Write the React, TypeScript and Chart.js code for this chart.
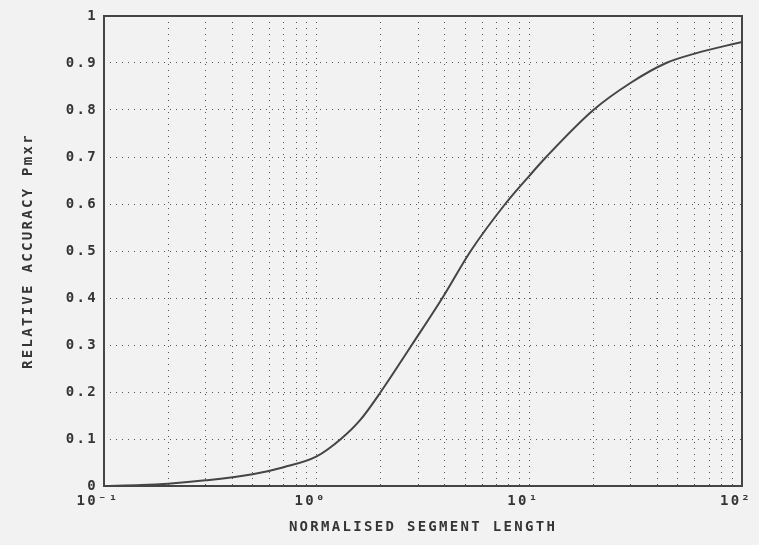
import React, { useEffect, useRef } from "react";
import { Chart, registerables } from "chart.js";

Chart.register(...registerables);

// Normalised segment length (log axis) and the relative accuracy it gives
const segmentLength = [0.1, 0.15, 0.2, 0.3, 0.5, 0.7, 1.0, 1.3, 1.6, 2.0, 2.8, 3.9, 5.3, 7.7, 10, 12, 20, 30, 44, 60, 100];
const relativeAccuracy = [0, 0.002, 0.005, 0.012, 0.025, 0.04, 0.063, 0.1, 0.14, 0.2, 0.3, 0.4, 0.5, 0.6, 0.66, 0.7, 0.8, 0.858, 0.9, 0.92, 0.945];

// Vertical grid positions: every 1..9 step of each decade
const xGridValues = [
  0.1, 0.2, 0.3, 0.4, 0.5, 0.6, 0.7, 0.8, 0.9,
  1, 2, 3, 4, 5, 6, 7, 8, 9,
  10, 20, 30, 40, 50, 60, 70, 80, 90,
  100,
];
const xDecades = [0.1, 1, 10, 100];
const xTickLabels = ["10\u207B\u00B9", "10\u2070", "10\u00B9", "10\u00B2"];

const yTickValues = [0, 0.1, 0.2, 0.3, 0.4, 0.5, 0.6, 0.7, 0.8, 0.9, 1];
const yTickLabels = ["0", "0.1", "0.2", "0.3", "0.4", "0.5", "0.6", "0.7", "0.8", "0.9", "1"];

const xTitle = "NORMALISED SEGMENT LENGTH";
const yTitle = "RELATIVE ACCURACY Pmxr";

const W = 759;
const H = 545;
const PAPER = "#f2f2f2";
const INK = "#353535";
const GRID = "#555555";
const FONT = "'DejaVu Sans Mono', monospace";
const SPACING = "2.3px";

// Wide plotter-style lettering plus the paper background
const paperPlugin = {
  id: "paper",
  beforeLayout(chart: any) {
    chart.ctx.letterSpacing = SPACING;
  },
  beforeDraw(chart: any) {
    const ctx = chart.ctx;
    ctx.letterSpacing = SPACING;
    ctx.save();
    ctx.fillStyle = PAPER;
    ctx.fillRect(0, 0, chart.width, chart.height);
    ctx.restore();
  },
};

// Closed frame round the plotting area
const framePlugin = {
  id: "frame",
  afterDatasetsDraw(chart: any) {
    const { ctx, chartArea } = chart;
    ctx.save();
    ctx.strokeStyle = "#454545";
    ctx.lineWidth = 2;
    ctx.setLineDash([]);
    ctx.strokeRect(chartArea.left, chartArea.top, chartArea.right - chartArea.left, chartArea.bottom - chartArea.top);
    ctx.restore();
  },
};

export default function App() {
  const canvasRef = useRef<HTMLCanvasElement | null>(null);

  useEffect(() => {
    const canvas = canvasRef.current;
    if (!canvas) return;

    const chart = new Chart(canvas, {
      type: "line",
      data: {
        datasets: [
          {
            data: segmentLength.map((x, i) => ({ x, y: relativeAccuracy[i] })),
            borderColor: "#454545",
            borderWidth: 2,
            pointRadius: 0,
            cubicInterpolationMode: "monotone",
            fill: false,
          },
        ],
      },
      options: {
        responsive: false,
        animation: false,
        events: [],
        layout: { padding: { top: 16, right: 17, left: 0, bottom: 0 } },
        plugins: {
          legend: { display: false },
          tooltip: { enabled: false },
        },
        scales: {
          x: {
            type: "logarithmic",
            position: "bottom",
            min: 0.1,
            max: 100,
            afterBuildTicks(scale: any) {
              scale.ticks = xGridValues.map((v) => ({ value: v, major: xDecades.includes(v) }));
            },
            afterFit(scale: any) {
              scale.height = 59;
              scale.paddingLeft = 0;
              scale.paddingRight = 0;
            },
            grid: {
              display: true,
              drawTicks: false,
              color: GRID,
              lineWidth: 1,
            },
            border: { display: false, dash: [1, 5] },
            ticks: {
              autoSkip: false,
              maxRotation: 0,
              minRotation: 0,
              padding: 7,
              labelOffset: -6,
              color: INK,
              font: { family: FONT, size: 14, weight: "bold" },
              callback: (value: any) => {
                const i = xDecades.indexOf(Number(value));
                return i >= 0 ? xTickLabels[i] : "";
              },
            },
            title: {
              display: true,
              text: xTitle,
              color: INK,
              font: { family: FONT, size: 14, weight: "bold", lineHeight: 1.2 },
              padding: { top: 0, bottom: 9.6 },
            },
          },
          y: {
            type: "linear",
            position: "left",
            min: 0,
            max: 1,
            afterBuildTicks(scale: any) {
              scale.ticks = yTickValues.map((v) => ({ value: v }));
            },
            afterFit(scale: any) {
              scale.width = 104;
              scale.paddingTop = 0;
              scale.paddingBottom = 0;
            },
            grid: {
              display: true,
              drawTicks: false,
              color: GRID,
              lineWidth: 1,
            },
            border: { display: false, dash: [1, 5] },
            ticks: {
              padding: 6,
              color: INK,
              font: { family: FONT, size: 14, weight: "bold" },
              callback: (_value: any, index: number) => yTickLabels[index],
            },
            title: {
              display: true,
              text: yTitle,
              color: INK,
              font: { family: FONT, size: 14, weight: "bold", lineHeight: 1.2 },
              padding: { top: 19.6, bottom: 0 },
            },
          },
        },
      },
      plugins: [paperPlugin, framePlugin],
    } as any);

    return () => chart.destroy();
  }, []);

  return (
    <div style={{ position: "fixed", left: 0, top: 0, width: W, height: H, background: PAPER }}>
      <canvas ref={canvasRef} width={W} height={H} style={{ display: "block", width: W, height: H }} />
    </div>
  );
}
